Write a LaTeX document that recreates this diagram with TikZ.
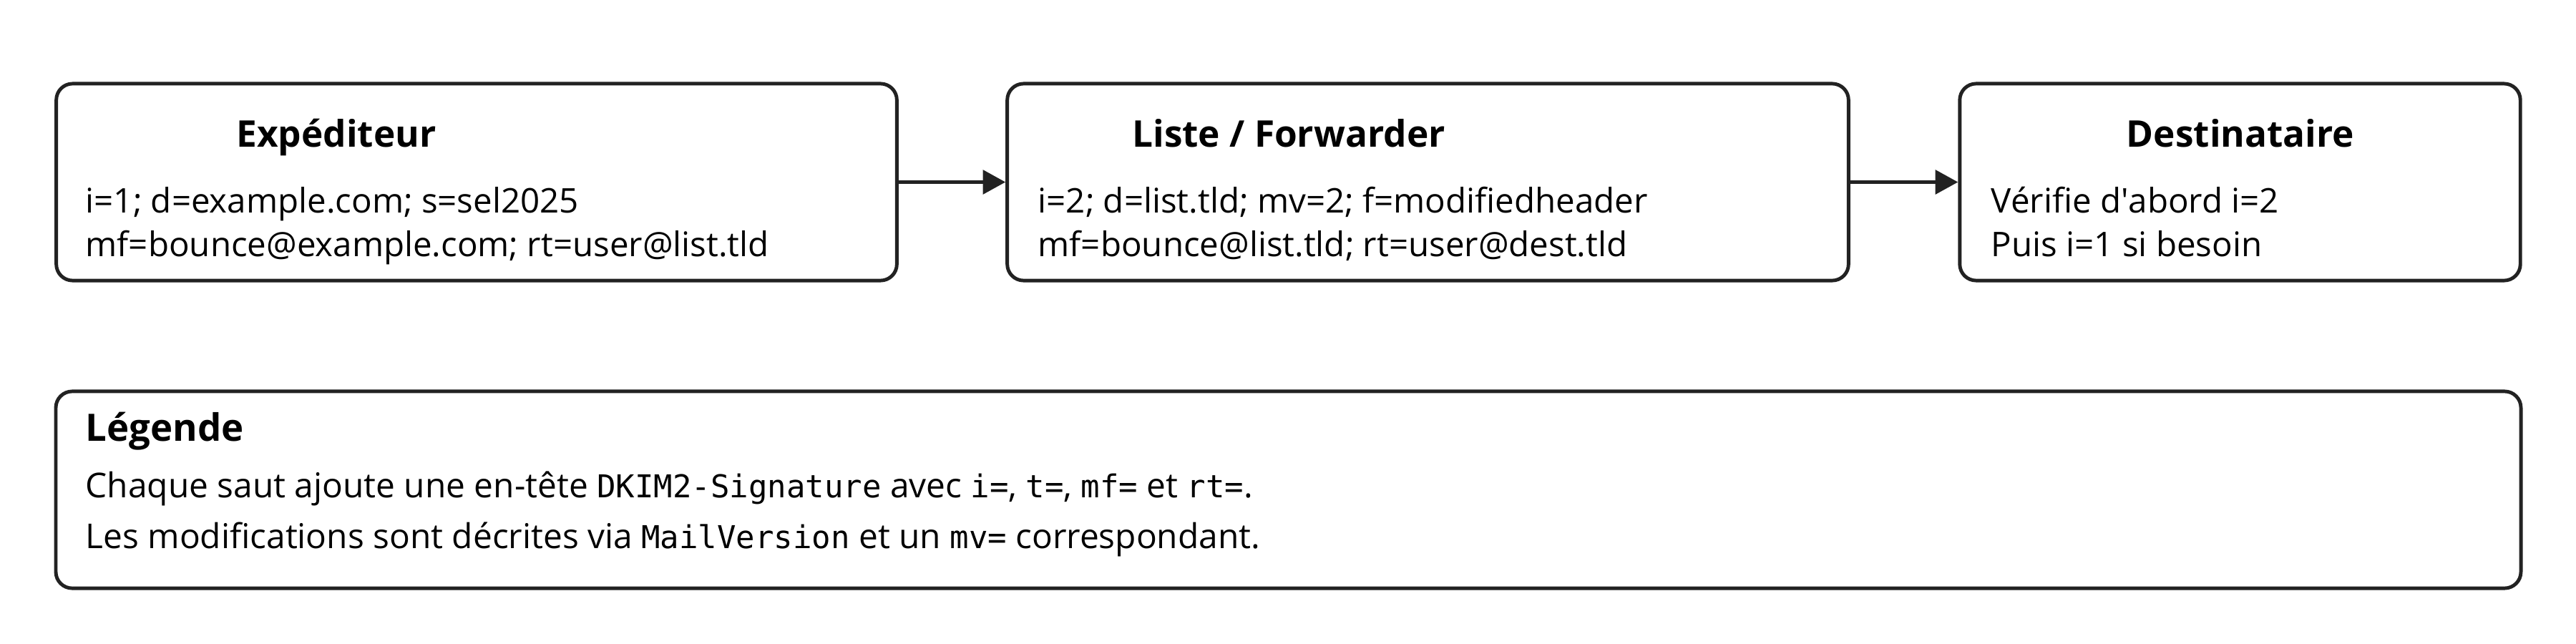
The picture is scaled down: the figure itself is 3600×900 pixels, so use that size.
\documentclass[tikz,border=0pt]{standalone}
\usepackage{fontspec}
\setmainfont{Open Sans}
\newfontfamily\monof{DejaVu Sans Mono}[Scale=0.92]
\usetikzlibrary{arrows.meta}
\definecolor{ink}{HTML}{222222}
\begin{document}
\begin{tikzpicture}[x=0.01cm,y=-0.01cm,
  box/.style={draw=ink, line width=1.4pt, rounded corners=6.5pt, fill=white, inner sep=0pt, minimum height=2.75cm},
  ttl/.style={font=\fontsize{14.6pt}{18pt}\selectfont\bfseries, anchor=base, inner sep=0pt, text=black},
  lgt/.style={font=\fontsize{15pt}{18pt}\selectfont\bfseries, anchor=base west, inner sep=0pt, text=black},
  txt/.style={font=\fontsize{13.5pt}{17pt}\selectfont, anchor=base west, inner sep=0pt, text=black},
  lgtxt/.style={font=\fontsize{13.6pt}{17pt}\selectfont, anchor=base west, inner sep=0pt, text=black},
  flow/.style={draw=ink, line width=1.4pt, -{Triangle[length=9pt,width=9.5pt]}}]
\useasboundingbox (0,0) rectangle (3600,900);
% boxes
\node[box, minimum width=11.74cm] (snd) at (666,254.5) {};
\node[box, minimum width=11.75cm] (fwd) at (1995.5,254.5) {};
\node[box, minimum width=7.83cm] (rcv) at (3130.5,254.5) {};
\node[box, minimum width=34.43cm] (leg) at (1800.5,684.5) {};
% connectors
\draw[flow] (snd.east) -- (fwd.west);
\draw[flow] (fwd.east) -- (rcv.west);
% sender
\node[ttl] (sndt) at (470,205) {Expéditeur};
\node[txt] (snd1) at (119,297) {i=1; d=example.com; s=sel2025};
\node[txt] (snd2) at (119,358) {mf=bounce@example.com; rt=user@list.tld};
% forwarder
\node[ttl] (fwdt) at (1801,205) {Liste / Forwarder};
\node[txt] (fwd1) at (1450,297) {i=2; d=list.tld; mv=2; f=modifiedheader};
\node[txt] (fwd2) at (1450,358) {mf=bounce@list.tld; rt=user@dest.tld};
% recipient
\node[ttl] (rcvt) at (3131,205) {Destinataire};
\node[txt] (rcv1) at (2782,297) {Vérifie d\textquotesingle abord i=2};
\node[txt] (rcv2) at (2782,358) {Puis i=1 si besoin};
% legend
\node[lgt] (legt) at (119,616) {Légende};
\node[lgtxt] (leg1) at (119,695) {Chaque saut ajoute une en-tête {\monof DKIM2-Signature} avec {\monof i=}, {\monof t=}, {\monof mf=} et {\monof rt=}.};
\node[lgtxt] (leg2) at (119,766) {Les modifications sont décrites via {\monof MailVersion} et un {\monof mv=} correspondant.};
\end{tikzpicture}
\end{document}
